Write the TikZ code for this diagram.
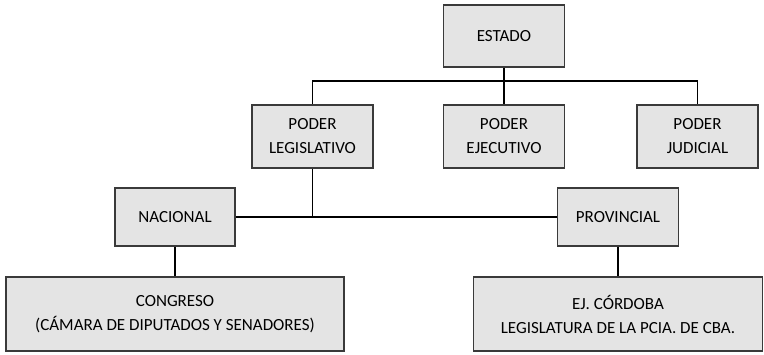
\documentclass[tikz,border=0pt]{standalone}
\usepackage{fontspec}
\setmainfont{Carlito}
\definecolor{boxfill}{HTML}{E4E4E4}
\definecolor{boxline}{HTML}{3A3A3A}
\tikzset{
  orgbox/.style={draw=boxline, line width=1.8pt, fill=boxfill, rectangle,
    align=center, font=\fontsize{17}{24}\selectfont, inner sep=0pt},
  link/.style={line width=1.8pt, black}
}
\begin{document}
\begin{tikzpicture}[x=1pt, y=-1pt]
% Page frame
\useasboundingbox (0,0) rectangle (764,354);

% Top level
\node[orgbox, minimum width=121pt, minimum height=62pt] (estado) at (504,36) {ESTADO};

% The three powers
\node[orgbox, minimum width=121pt, minimum height=63pt] (legis) at (312.5,136.5) {PODER\\LEGISLATIVO};
\node[orgbox, minimum width=121pt, minimum height=63pt] (ejec) at (504,136.5) {PODER\\EJECUTIVO};
\node[orgbox, minimum width=121pt, minimum height=63pt] (judic) at (697.5,136.5) {PODER\\JUDICIAL};

% Levels of the legislative power
\node[orgbox, minimum width=120pt, minimum height=58pt] (nac) at (175,217) {NACIONAL};
\node[orgbox, minimum width=121pt, minimum height=58pt] (prov) at (618,217) {PROVINCIAL};

% Bodies
\node[orgbox, minimum width=338pt, minimum height=74pt] (congreso) at (175,314) {CONGRESO\\(CÁMARA DE DIPUTADOS Y SENADORES)};
\node[orgbox, minimum width=289pt, minimum height=74pt] (cordoba) at (618,314) {EJ. CÓRDOBA\\LEGISLATURA DE LA PCIA. DE CBA.};

% Connectors
\coordinate (bus) at (504,81);
\draw[link] (estado.south) -- (ejec.north);
\draw[link] (legis.north) |- (bus) -| (judic.north);
\draw[link] (legis.south) -- (legis.south |- nac.east);
\draw[link] (nac.east) -- (prov.west);
\draw[link] (nac.south) -- (congreso.north);
\draw[link] (prov.south) -- (cordoba.north);
\end{tikzpicture}
\end{document}
